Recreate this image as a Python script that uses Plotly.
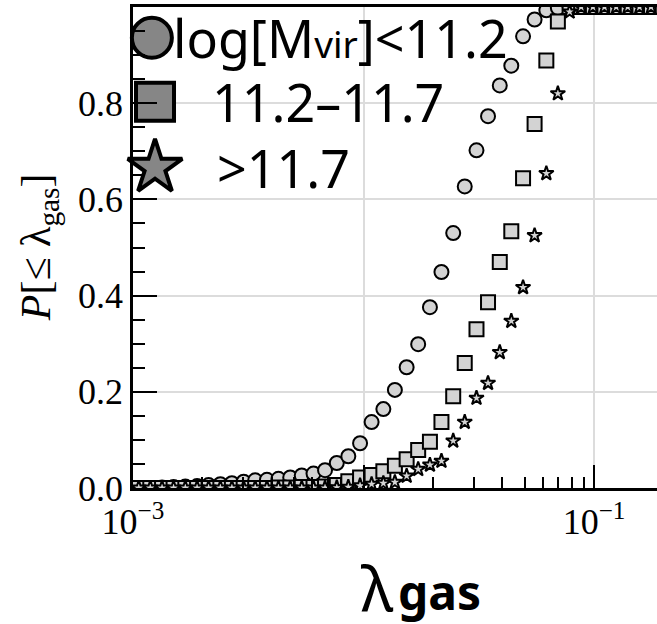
import plotly.graph_objects as go

# log10(lambda_gas) bin centres
log_lambda = [-2.975, -2.925, -2.874, -2.824, -2.773, -2.722, -2.672, -2.621, -2.571, -2.520,
              -2.470, -2.419, -2.369, -2.318, -2.268, -2.217, -2.167, -2.116, -2.066, -2.015,
              -1.965, -1.914, -1.864, -1.813, -1.763, -1.712, -1.662, -1.611, -1.561, -1.510,
              -1.460, -1.409, -1.359, -1.308, -1.258, -1.207, -1.157, -1.106, -1.056, -1.005,
              -0.955, -0.904, -0.854, -0.803, -0.753, -0.702]

# cumulative fractions P[<= lambda_gas]
p_low = [0.0, 0.0, 0.001, 0.002, 0.003, 0.004, 0.006, 0.008, 0.010, 0.013,
         0.016, 0.017, 0.019, 0.022, 0.026, 0.030, 0.037, 0.052, 0.066, 0.093,
         0.137, 0.164, 0.204, 0.251, 0.299, 0.376, 0.449, 0.530, 0.627, 0.702,
         0.773, 0.837, 0.878, 0.939, 0.974, 0.993, 0.998, 1.0, 1.0, 1.0,
         1.0, 1.0, 1.0, 1.0, 1.0, 1.0]
p_mid = [0.0, 0.0, 0.0, 0.0, 0.0, 0.0, 0.0, 0.0, 0.0, 0.0,
         0.0, 0.0, 0.001, 0.001, 0.002, 0.002, 0.003, 0.006, 0.014, 0.022,
         0.027, 0.035, 0.046, 0.060, 0.079, 0.096, 0.137, 0.191, 0.260, 0.330,
         0.386, 0.470, 0.534, 0.644, 0.757, 0.889, 0.970, 1.0, 1.0, 1.0,
         1.0, 1.0, 1.0, 1.0, 1.0, 1.0]
p_high = [0.0, 0.0, 0.0, 0.0, 0.0, 0.0, 0.0, 0.0, 0.0, 0.0,
          0.0, 0.0, 0.0, 0.0, 0.0, 0.0, 0.0, 0.001, 0.002, 0.005,
          0.008, 0.010, 0.012, 0.025, 0.039, 0.048, 0.056, 0.098, 0.137, 0.187,
          0.218, 0.282, 0.347, 0.417, 0.525, 0.654, 0.820, 0.990, 1.0, 1.0,
          1.0, 1.0, 1.0, 1.0, 1.0, 1.0]

series_names = ["log[M<span style=\"font-size:37px\">vir</span>]<11.2", "11.2\u201311.7", ">11.7"]
series_symbols = ["circle", "square", "star"]
y_tick_vals = [0.0, 0.2, 0.4, 0.6, 0.8]
y_tick_text = ["0.0", "0.2", "0.4", "0.6", "0.8"]
x_tick_vals = [1e-3, 1e-2, 1e-1]
x_tick_text = ["10<sup>\u22123</sup>", "", "10<sup>\u22121</sup>"]

lam = [10 ** v for v in log_lambda]
series_values = [p_low, p_mid, p_high]
data_sizes = [14, 14, 11]

fig = go.Figure()
for vals, sym, sz, name in zip(series_values, series_symbols, data_sizes, series_names):
    fig.add_trace(go.Scatter(
        x=lam, y=vals, mode="markers", name=name, showlegend=False,
        marker=dict(symbol=sym, size=sz, color="#d3d3d3",
                    line=dict(color="black", width=2)),
    ))

# custom legend (positions are fractions of the plotting area)
leg_marker_pos = [(0.036, 0.936), (0.042, 0.803), (0.042, 0.666)]
leg_marker_size = [40, 38, 41]
leg_text_x = [0.072, 0.147, 0.157]
for (lx, ly), sym, sz, name, tx in zip(leg_marker_pos, series_symbols, leg_marker_size,
                                       series_names, leg_text_x):
    fig.add_trace(go.Scatter(
        x=[lx], y=[ly], xaxis="x2", yaxis="y2", mode="markers", showlegend=False,
        cliponaxis=False, hoverinfo="skip",
        marker=dict(symbol=sym, size=sz, color="#868686",
                    line=dict(color="black", width=4)),
    ))
    fig.add_annotation(x=tx, y=ly, xref="x2 domain", yref="y2 domain", text=name,
                       showarrow=False, xanchor="left", yanchor="middle",
                       font=dict(family="Noto Sans", size=52, color="black"))

axis_font = dict(family="Liberation Serif", size=36, color="black")

fig.update_layout(
    width=657, height=624,
    margin=dict(l=133, r=0, t=7, b=136),
    paper_bgcolor="white", plot_bgcolor="white",
    showlegend=False,
    xaxis=dict(
        type="log", range=[-3, -0.727],
        showline=True, linecolor="black", linewidth=2.5, mirror=True,
        ticks="inside", ticklen=23, tickwidth=2, tickcolor="black",
        tickvals=x_tick_vals, ticktext=x_tick_text,
        tickfont=axis_font,
        showgrid=True, gridcolor="#dcdcdc", gridwidth=1.5,
        zeroline=False,
        minor=dict(ticks="inside", ticklen=11, tickwidth=2, tickcolor="black",
                   tickvals=[k * 10 ** e for e in (-3, -2, -1) for k in range(2, 10)],
                   showgrid=False),
    ),
    yaxis=dict(
        range=[0, 1],
        showline=True, linecolor="black", linewidth=2.5, mirror=False,
        ticks="inside", ticklen=24, tickwidth=2, tickcolor="black",
        tickvals=y_tick_vals, ticktext=y_tick_text,
        tickfont=axis_font,
        showgrid=True, gridcolor="#dcdcdc", gridwidth=1.5,
        zeroline=False,
        minor=dict(ticks="inside", ticklen=12, tickwidth=2, tickcolor="black",
                   dtick=0.05, showgrid=False),
    ),
    xaxis2=dict(overlaying="x", range=[0, 1], visible=False),
    yaxis2=dict(overlaying="y", range=[0, 1], visible=False),
)

fig.add_annotation(x=-0.18, y=0.5, xref="paper", yref="paper",
                   text="<i>P</i>[\u2264 \u03bb<sub>gas</sub>]", textangle=-90,
                   showarrow=False, xanchor="center", yanchor="middle",
                   font=dict(family="Liberation Serif", size=42, color="black"))
# x-axis title: lambda (regular) followed by bold "gas"
fig.add_annotation(x=0.502, y=-0.205, xref="paper", yref="paper",
                   text="\u03bb", showarrow=False, xanchor="right", yanchor="middle",
                   font=dict(family="Noto Sans", size=62, color="black"))
fig.add_annotation(x=0.502, y=-0.215, xref="paper", yref="paper",
                   text="<b>gas</b>", showarrow=False, xanchor="left", yanchor="middle",
                   font=dict(family="Noto Sans", size=48, color="black"))

fig.write_html("out.html")
